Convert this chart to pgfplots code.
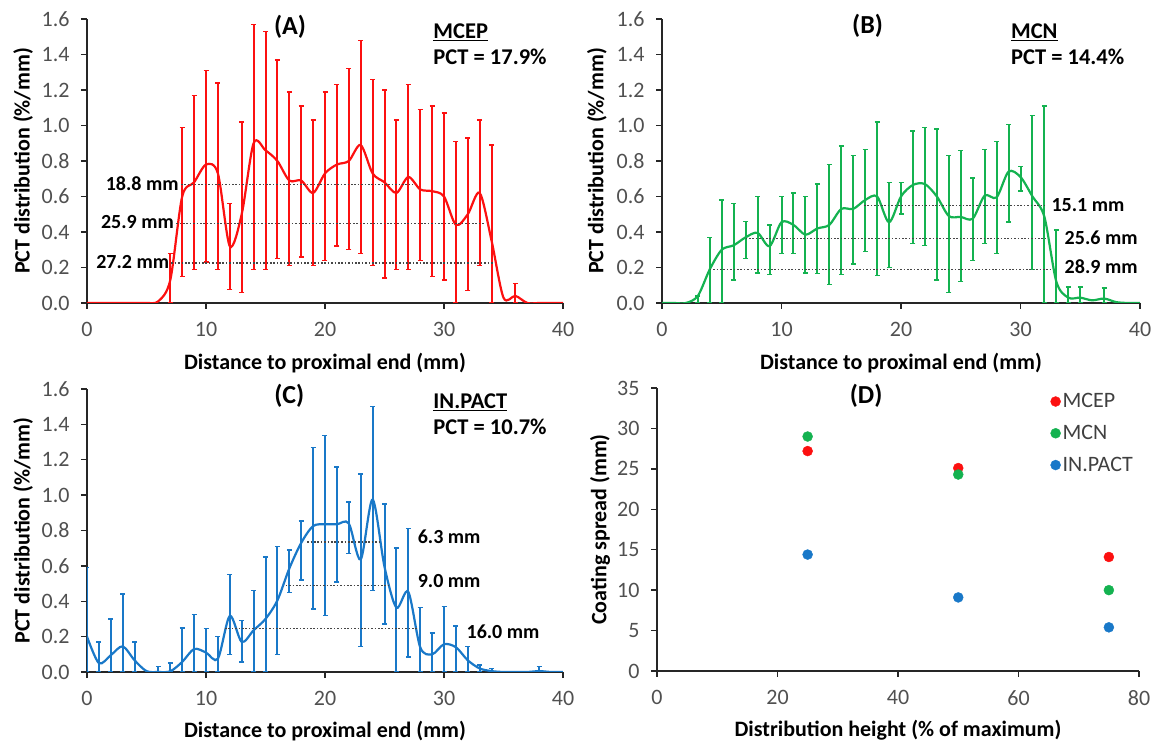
\documentclass[border=0pt]{standalone}
\usepackage{fontspec}
\setmainfont{Carlito}
\usepackage{pgfplots}
\pgfplotsset{compat=1.18}
\usepackage{pgfplotstable}

\definecolor{cred}{RGB}{252,16,16}
\definecolor{cgreen}{RGB}{20,178,80}
\definecolor{cblue}{RGB}{25,120,200}
\definecolor{ticktext}{RGB}{80,80,80}
\definecolor{dotc}{RGB}{70,70,70}

\newcommand\tfont{\fontsize{22}{26}\selectfont}
\newcommand\afont{\bfseries\fontsize{20}{23}\selectfont}
\newcommand\pfont{\bfseries\fontsize{22.5}{26}\selectfont}
\newcommand\hfont{\bfseries\fontsize{26}{30}\selectfont}

% ---------- Panel A (MCEP) ----------
\pgfplotstableread{
x y
0 0
1 0
2 0
3 0
4 0
5 0
6 0.01
7 0.13
8 0.60
9 0.68
10 0.78
11 0.73
12 0.32
13 0.50
14 0.90
15 0.86
16 0.80
17 0.69
18 0.69
19 0.62
20 0.73
21 0.78
22 0.80
23 0.89
24 0.73
25 0.68
26 0.62
27 0.71
28 0.64
29 0.63
30 0.60
31 0.44
32 0.50
33 0.62
34 0.35
35 0.03
36 0.04
37 0.0
38 0
39 0
40 0
}\curveA
\pgfplotstableread{
x top bot
7 0.28 0.0
8 0.99 0.15
9 1.17 0.19
10 1.31 0.23
11 1.24 0.19
12 0.56 0.075
13 1.02 0.06
14 1.57 0.19
15 1.53 0.19
16 1.37 0.25
17 1.19 0.21
18 1.11 0.26
19 1.03 0.21
20 1.19 0.24
21 1.23 0.32
22 1.32 0.30
23 1.48 0.28
24 1.26 0.21
25 1.20 0.14
26 1.03 0.19
27 1.23 0.19
28 1.09 0.24
29 1.11 0.15
30 1.07 0.13
31 0.91 0.0
32 0.93 0.07
33 1.03 0.21
34 0.89 0.0
36 0.11 0.0
}\barsA

% ---------- Panel B (MCN) ----------
\pgfplotstableread{
x y
0 0
1 0
2 0
3 0.04
4 0.19
5 0.30
6 0.325
7 0.37
8 0.395
9 0.32
10 0.455
11 0.44
12 0.385
13 0.42
14 0.44
15 0.53
16 0.53
17 0.58
18 0.60
19 0.455
20 0.60
21 0.665
22 0.67
23 0.60
24 0.49
25 0.485
26 0.475
27 0.605
28 0.595
29 0.74
30 0.71
31 0.60
32 0.485
33 0.12
34 0.03
35 0.03
36 0.015
37 0.025
38 0.005
39 0
40 0
}\curveB
\pgfplotstableread{
x top bot
3 0.04 0.0
4 0.37 0.0
5 0.58 0.0
6 0.56 0.13
7 0.46 0.25
8 0.60 0.17
9 0.44 0.16
10 0.60 0.28
11 0.62 0.28
12 0.60 0.17
13 0.67 0.165
14 0.78 0.105
15 0.885 0.16
16 0.83 0.22
17 0.865 0.29
18 1.02 0.155
19 0.68 0.20
20 0.68 0.50
21 0.97 0.335
22 0.99 0.325
23 0.98 0.13
24 0.83 0.06
25 0.86 0.12
26 0.705 0.24
27 0.865 0.335
28 0.91 0.28
29 1.005 0.457
30 0.77 0.63
31 1.055 0.19
32 1.11 0.0
33 0.41 0.0
34 0.09 0.0
35 0.09 0.0
37 0.085 0.0
}\barsB

% ---------- Panel C (IN.PACT) ----------
\pgfplotstableread{
x y
0 0.20
1 0.05
2 0.095
3 0.145
4 0.066
5 0.005
6 0
7 0.004
8 0.057
9 0.13
10 0.11
11 0.075
12 0.317
13 0.17
14 0.236
15 0.30
16 0.405
17 0.585
18 0.73
19 0.825
20 0.835
21 0.835
22 0.84
23 0.636
24 0.975
25 0.595
26 0.364
27 0.453
28 0.14
29 0.10
30 0.157
31 0.14
32 0.066
33 0.02
34 0.005
35 0
36 0
37 0
38 0.005
39 0
40 0
}\curveC
\pgfplotstableread{
x top bot
0 0.59 0.0
1 0.17 0.0
2 0.30 0.0
3 0.44 0.0
4 0.17 0.0
6 0.03 0.0
7 0.05 0.0
8 0.25 0.0
9 0.325 0.0
10 0.245 0.0
11 0.20 0.0
12 0.55 0.10
13 0.29 0.057
14 0.46 0.0
15 0.65 0.0
16 0.71 0.10
17 0.69 0.45
18 0.855 0.52
19 1.27 0.355
20 1.336 0.32
21 1.16 0.51
22 0.96 0.67
23 1.12 0.145
24 1.50 0.46
25 0.95 0.27
26 0.70 0.0
27 0.81 0.085
28 0.364 0.0
29 0.22 0.0
30 0.37 0.0
31 0.26 0.0
32 0.145 0.0
33 0.04 0.0
34 0.02 0.0
38 0.03 0.0
}\barsC

\pgfplotsset{
  panel/.style={
    scale only axis,
    anchor=south west,
    clip mode=individual,
    axis x line=bottom, axis y line=left,
    axis line style={line width=1.6pt, -, black!85},
    tick align=outside,
    major tick length=6pt,
    tick style={line width=1.3pt, black!85},
    ticklabel style={font=\tfont, text=ticktext},
    xticklabel style={yshift=-10pt},
    yticklabel style={xshift=-8pt},
    /pgf/number format/assume math mode=true,
    label style={font=\bfseries\tfont},
    ymin=0,
  },
  dist/.style={
    panel,
    width=476pt, height=284pt,
    xmin=0, xmax=40, ymax=1.6,
    xtick={0,10,20,30,40},
    ytick={0,0.2,0.4,0.6,0.8,1.0,1.2,1.4,1.6},
    yticklabel style={/pgf/number format/.cd, fixed, fixed zerofill, precision=1},
    xlabel={Distance to proximal end (mm)},
    ylabel={PCT distribution (\%/mm)},
    xlabel style={at={(axis description cs:0.5,-0.21)}, anchor=center},
    ylabel style={at={(axis description cs:-0.134,0.5)}, anchor=center},
  },
  curve/.style={smooth, line width=2.2pt, mark=none},
  ebars/.style={only marks, mark=-, mark size=0pt,
    error bars/.cd, y dir=both, y explicit,
    error bar style={line width=2pt, #1},
    error mark options={rotate=90, mark size=2.5pt, line width=1.5pt, #1}},
  refline/.style={dotc, line width=1.6pt, dash pattern=on 1.6pt off 1.8pt, mark=none},
}

\begin{document}
\begin{tikzpicture}[x=1pt,y=1pt]
\useasboundingbox (0,0) rectangle (1162,744);

% ===== A =====
\begin{axis}[dist, at={(87pt,441pt)}]
\addplot[cred, curve] table[x=x, y=y] {\curveA};
\addplot[cred, ebars=cred] table[x=x, y expr=(\thisrow{top}+\thisrow{bot})/2, y error expr=(\thisrow{top}-\thisrow{bot})/2] {\barsA};
\addplot[refline] coordinates {(7.9,0.667) (27.4,0.667)};
\addplot[refline] coordinates {(7.5,0.447) (33.4,0.447)};
\addplot[refline] coordinates {(7.1,0.225) (34.2,0.225)};
\node[anchor=east, font=\afont, inner sep=1pt] at (axis cs:7.8,0.675) {18.8 mm};
\node[anchor=east, font=\afont, inner sep=1pt] at (axis cs:7.4,0.455) {25.9 mm};
\node[anchor=east, font=\afont, inner sep=1pt] at (axis cs:7.0,0.232) {27.2 mm};
\node[font=\hfont] at (axis cs:17.06,1.555) {(A)};
\node[anchor=west, font=\pfont, inner sep=0pt] at (axis cs:29.1,1.527) {\underline{MCEP}};
\node[anchor=west, font=\pfont, inner sep=0pt] at (axis cs:29.1,1.386) {PCT = 17.9\%};
\end{axis}

% ===== B =====
\begin{axis}[dist, at={(662pt,441pt)}, width=478pt, ylabel style={at={(axis description cs:-0.136,0.5)}}]
\addplot[cgreen, curve] table[x=x, y=y] {\curveB};
\addplot[cgreen, ebars=cgreen] table[x=x, y expr=(\thisrow{top}+\thisrow{bot})/2, y error expr=(\thisrow{top}-\thisrow{bot})/2] {\barsB};
\addplot[refline] coordinates {(16.9,0.55) (32.0,0.55)};
\addplot[refline] coordinates {(7.0,0.363) (32.3,0.363)};
\addplot[refline] coordinates {(4.0,0.188) (32.5,0.188)};
\node[anchor=west, font=\afont, inner sep=1pt] at (axis cs:32.5,0.55) {15.1 mm};
\node[anchor=west, font=\afont, inner sep=1pt] at (axis cs:33.6,0.368) {25.6 mm};
\node[anchor=west, font=\afont, inner sep=1pt] at (axis cs:33.6,0.205) {28.9 mm};
\node[font=\hfont] at (axis cs:17.2,1.56) {(B)};
\node[anchor=west, font=\pfont, inner sep=0pt] at (axis cs:29.2,1.527) {\underline{MCN}};
\node[anchor=west, font=\pfont, inner sep=0pt] at (axis cs:29.2,1.386) {PCT = 14.4\%};
\end{axis}

% ===== C =====
\begin{axis}[dist, at={(87pt,72pt)}, height=283pt]
\addplot[cblue, curve] table[x=x, y=y] {\curveC};
\addplot[cblue, ebars=cblue] table[x=x, y expr=(\thisrow{top}+\thisrow{bot})/2, y error expr=(\thisrow{top}-\thisrow{bot})/2] {\barsC};
\addplot[refline] coordinates {(18.5,0.736) (24.7,0.736)};
\addplot[refline] coordinates {(16.7,0.49) (25.5,0.49)};
\addplot[refline] coordinates {(11.6,0.245) (27.7,0.245)};
\node[anchor=west, font=\afont, inner sep=1pt] at (axis cs:27.7,0.762) {6.3 mm};
\node[anchor=west, font=\afont, inner sep=1pt] at (axis cs:27.7,0.514) {9.0 mm};
\node[anchor=west, font=\afont, inner sep=1pt] at (axis cs:31.8,0.226) {16.0 mm};
\node[font=\hfont] at (axis cs:17.0,1.56) {(C)};
\node[anchor=west, font=\pfont, inner sep=0pt] at (axis cs:29.1,1.525) {\underline{IN.PACT}};
\node[anchor=west, font=\pfont, inner sep=0pt] at (axis cs:29.1,1.385) {PCT = 10.7\%};
\end{axis}

% ===== D =====
\begin{axis}[panel, at={(657pt,73pt)}, width=482pt, height=283pt,
  xmin=0, xmax=80, ymax=35,
  xtick={0,20,40,60,80}, ytick={0,5,10,15,20,25,30,35},
  xlabel={Distribution height (\% of maximum)},
  ylabel={Coating spread (mm)},
  xlabel style={at={(axis description cs:0.5,-0.21)}, anchor=center},
  ylabel style={at={(axis description cs:-0.118,0.5)}, anchor=center},
  legend style={at={(0.81,0.995)}, anchor=north west, draw=none, fill=none,
    font=\tfont, text=black!75, row sep=12pt},
  legend cell align=left,
  legend image code/.code={\draw[#1] plot coordinates {(0.22cm,0cm)};},
]
\addplot[only marks, mark=*, mark size=5pt, draw=cred, fill=cred] coordinates {(25,27.2) (50,25.1) (75,14.1)};
\addlegendentry{MCEP}
\addplot[only marks, mark=*, mark size=5pt, draw=cgreen, fill=cgreen] coordinates {(25,29.0) (50,24.3) (75,10.0)};
\addlegendentry{MCN}
\addplot[only marks, mark=*, mark size=5pt, draw=cblue, fill=cblue] coordinates {(25,14.4) (50,9.1) (75,5.4)};
\addlegendentry{IN.PACT}
\node[font=\hfont] at (axis cs:34.7,34.0) {(D)};
\end{axis}
\end{tikzpicture}
\end{document}
